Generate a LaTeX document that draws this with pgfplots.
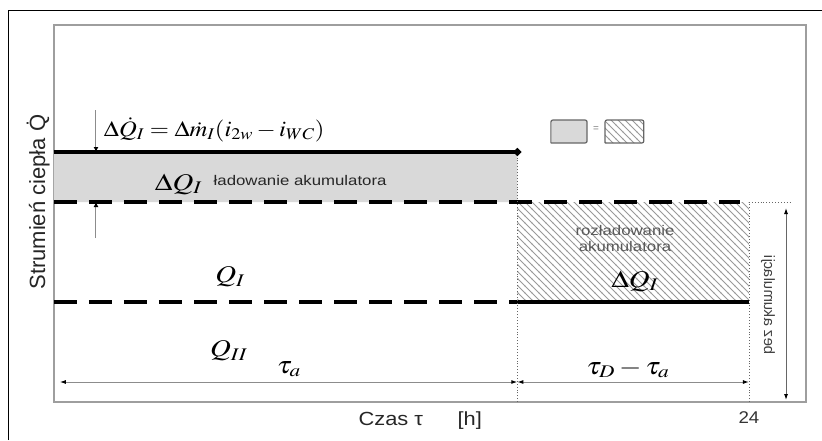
\documentclass[border=0pt]{standalone}
\usepackage{mathptmx}
\usepackage[no-math]{fontspec}
\setmainfont{Liberation Sans}
\usepackage{pgfplots}
\pgfplotsset{compat=1.18}
\usetikzlibrary{patterns,arrows.meta}

\newcommand{\fs}[1]{\fontsize{#1}{#1}\selectfont}

% sparse diagonal hatching
\pgfdeclarepatternformonly{sparse nw lines}{\pgfqpoint{-1pt}{-1pt}}{\pgfqpoint{8pt}{8pt}}{\pgfqpoint{7pt}{7pt}}%
{\pgfsetlinewidth{0.9pt}\pgfpathmoveto{\pgfqpoint{-0.5pt}{7.5pt}}\pgfpathlineto{\pgfqpoint{7.5pt}{-0.5pt}}\pgfusepath{stroke}}

\begin{document}
\begin{tikzpicture}[x=1pt,y=1pt]
\begin{axis}[
  at={(0,0)}, anchor=south west,
  scale only axis, width=752pt, height=377pt,
  xmin=0, xmax=25.97, ymin=0, ymax=3.77,
  xtick={24}, xticklabels={24}, ytick=\empty,
  major tick length=0pt,
  axis line style={black!38, line width=1.8pt},
  xticklabel style={font=\fs{17}, text=black!80, xscale=1.1, yshift=-6pt},
  clip=false,
  xlabel={Czas τ\hspace{30pt}[h]},
  xlabel style={at={(rel axis cs:0.487,-0.048)}, anchor=center, font=\fs{19}, xscale=1.15, text=black!85},
  ylabel={Strumień ciepła \.{Q}},
  ylabel style={at={(rel axis cs:-0.021,0.53)}, anchor=center, font=\fs{22}, text=black!85},
]
% charging of the accumulator (grey band) and its discharge (hatched band)
\addplot[fill=black!15, draw=none] coordinates {(0,2) (16,2) (16,2.5) (0,2.5) (0,2)};
\addplot[pattern=sparse nw lines, pattern color=black!40, draw=none]
  coordinates {(16,1) (24,1) (24,2) (16,2) (16,1)};

% heat flux levels
\addplot[black, line width=3.4pt, mark=*, mark size=1.8pt, mark indices={2}] coordinates {(0,2.5) (16,2.5)};
\addplot[black, line width=3.4pt, dash pattern=on 23pt off 12pt] coordinates {(0,2) (23.7,2)};
\addplot[black, line width=3.4pt, dash pattern=on 23pt off 12pt] coordinates {(0,1) (16,1)};
\addplot[black, line width=3.4pt] coordinates {(16,1) (24,1)};

% auxiliary dotted lines
\addplot[black!60, dotted, line width=0.9pt] coordinates {(16,0) (16,2.5)};
\addplot[black!60, dotted, line width=0.9pt] coordinates {(24,0) (24,2)};
\addplot[black!60, dotted, line width=0.9pt] coordinates {(24,2) (25.5,2)};

% dimension lines
\addplot[black!45, line width=1pt, {Latex[length=6pt,width=4pt,black]}-{Latex[length=6pt,width=4pt,black]}]
  coordinates {(0.2,0.2) (16,0.2)};
\addplot[black!45, line width=1pt, {Latex[length=6pt,width=4pt,black]}-{Latex[length=6pt,width=4pt,black]}]
  coordinates {(16,0.2) (24,0.2)};
\addplot[black!60, line width=0.9pt, {Latex[length=6pt,width=4pt,black]}-{Latex[length=6pt,width=4pt,black]}]
  coordinates {(25.28,1.94) (25.28,0.02)};
\addplot[black!45, line width=1pt, -{Latex[length=5pt,width=5pt,black]}] coordinates {(1.45,2.92) (1.45,2.5)};
\addplot[black!45, line width=1pt, -{Latex[length=5pt,width=5pt,black]}] coordinates {(1.45,1.64) (1.45,2.0)};

% legend swatches
\addplot[fill=black!15, draw=black!60, line width=1.2pt, rounded corners=2pt]
  coordinates {(17.16,2.59) (18.41,2.59) (18.41,2.82) (17.16,2.82) (17.16,2.59)};
\addplot[pattern=sparse nw lines, pattern color=black!40, draw=black!60, line width=1.2pt, rounded corners=2pt]
  coordinates {(19.03,2.59) (20.37,2.59) (20.37,2.82) (19.03,2.82) (19.03,2.59)};
\node[font=\fs{10}, text=black!50] at (axis cs:18.72,2.73) {=};

% labels
\node[anchor=west, font=\fs{22}, xscale=1.12] at (axis cs:1.59,2.72)
  {$\Delta\dot{Q}_I = \Delta\dot{m}_I(i_{2w}-i_{WC})$};
\node[font=\fs{24}, xscale=1.2] at (axis cs:4.3,2.18) {$\Delta Q_I$};
\node[font=\fs{14}, xscale=1.2, text=black!85] at (axis cs:8.5,2.22) {ładowanie akumulatora};
\node[font=\fs{14}, xscale=1.2, text=black!65, align=center] at (axis cs:19.72,1.64)
  {rozładowanie\\[2pt]akumulatora};
\node[font=\fs{24}, xscale=1.2] at (axis cs:20.06,1.21) {$\Delta Q_I$};
\node[font=\fs{24}, xscale=1.2] at (axis cs:6.08,1.25) {$Q_I$};
\node[font=\fs{24}, xscale=1.2] at (axis cs:6.04,0.51) {$Q_{II}$};
\node[font=\fs{24}, xscale=1.2] at (axis cs:8.11,0.33) {$\tau_a$};
\node[font=\fs{24}, xscale=1.2] at (axis cs:19.82,0.33) {$\tau_D-\tau_a$};
\node[font=\fs{15}, text=black!75, xscale=-1, rotate=90] at (axis cs:24.66,0.97) {bez akumulacji};
\end{axis}
% outer frame
\draw[black, line width=1pt] (-45,-38) -- (-45,391) -- (768,391);
\pgfresetboundingbox
\path[use as bounding box] (-54,-38) rectangle (768,402);
\end{tikzpicture}
\end{document}
